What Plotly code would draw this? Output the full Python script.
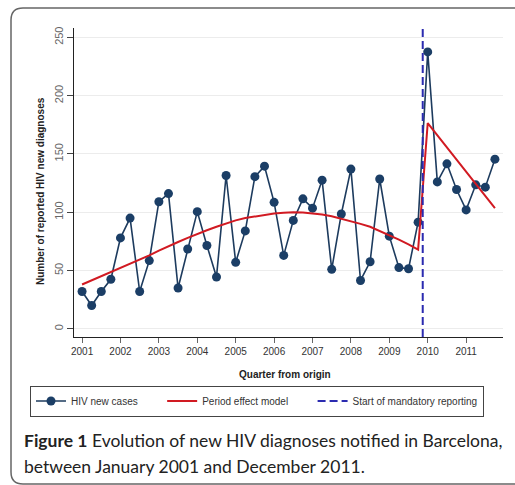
import plotly.graph_objects as go

# ---------------- data ----------------
years = list(range(2001, 2012))
year_labels = [str(y) for y in years]
quarters = [y + q / 4 for y in years for q in range(4)]

hiv_cases = [32, 20, 32, 42.5, 78, 95, 32, 58.5,
             109, 116, 35, 68.5, 100.5, 71.5, 44.5, 131.5,
             57, 84, 130.5, 139.5, 108.5, 63, 93, 111.5,
             103.5, 127.5, 51, 98.5, 137, 41.5, 57.5, 128.5,
             79.5, 52.5, 51.5, 91.5, 237.5, 126, 141.5, 119.5,
             102, 123.5, 121.5, 145.5]

period_model = [38, 41.5, 45, 48.5, 52, 56, 59.5, 63,
                67, 71, 74.5, 78, 81.5, 84.5, 87.5, 90.5,
                93, 95, 96.5, 98, 99, 99.5, 100, 99.8,
                99.2, 98, 96.5, 94.5, 92.5, 90, 87.5, 84,
                80.5, 76.5, 72.5, 68, 176.5, 166, 156, 145.5,
                135, 124.5, 114, 103.5]

mandatory_start = 2009.87
y_ticks = [0, 50, 100, 150, 200, 250]
y_range = [-7, 258]
x_range = [2000.79, 2011.96]

# ---------------- figure ----------------
W, H = 515, 485
ML, MR, MT, MB = 74, 12, 28, 148
PW, PH = W - ML - MR, H - MT - MB


def px(x):
    return (x - ML) / PW


def py(y):
    return (H - MB - y) / PH


NB = "\u00a0"

fig = go.Figure()

fig.add_trace(go.Scatter(
    x=quarters, y=hiv_cases, mode="lines+markers", name="HIV new cases" + NB * 7,
    line=dict(color="#1d3b5e", width=1.6),
    marker=dict(color="#1b3e66", size=9),
))
fig.add_trace(go.Scatter(
    x=quarters, y=period_model, mode="lines", name="Period effect model" + NB * 7,
    line=dict(color="#d11a22", width=2),
))
fig.add_trace(go.Scatter(
    x=[mandatory_start, mandatory_start], y=y_range, mode="lines",
    name="Start of mandatory reporting",
    line=dict(color="#2b2bb0", width=2, dash="8px,4px"),
))

fig.update_layout(
    width=W, height=H,
    margin=dict(l=ML, r=MR, t=MT, b=MB),
    paper_bgcolor="white", plot_bgcolor="white",
    font=dict(family="Liberation Sans, Arial", size=10, color="#333"),
    showlegend=True,
    legend=dict(
        orientation="h", x=px(30), xanchor="left", y=py(401), yanchor="middle",
        bordercolor="#444", borderwidth=1, bgcolor="white",
        font=dict(family="Liberation Sans, Arial", size=10, color="#333"),
        itemwidth=30, tracegroupgap=0,
    ),
    xaxis=dict(
        range=x_range, tickvals=years, ticktext=year_labels,
        showgrid=False, zeroline=False, showline=True, linecolor="#222", linewidth=1,
        ticks="outside", ticklen=5, tickcolor="#666",
        tickfont=dict(size=10, color="#333"),
    ),
    yaxis=dict(
        range=y_range, tickvals=y_ticks, tickangle=-90,
        showgrid=True, gridcolor="#ececec", gridwidth=1,
        zeroline=False, showline=True, linecolor="#222", linewidth=1,
        ticks="outside", ticklen=6, tickcolor="#444",
        tickfont=dict(size=11, color="#666"),
    ),
)

fig.add_annotation(
    xref="paper", yref="paper", x=px(40), y=py(191), textangle=-90,
    text="<b>Number of reported HIV new diagnoses</b>", showarrow=False,
    font=dict(size=10, color="#222"), xanchor="center", yanchor="middle",
)
fig.add_annotation(
    xref="paper", yref="paper", x=px(285), y=py(374),
    text="<b>Quarter from origin</b>", showarrow=False,
    font=dict(size=10, color="#222"), xanchor="center", yanchor="middle",
)

cap_font = dict(family="Lato, Open Sans", size=17.5, color="#222")
fig.add_annotation(
    xref="paper", yref="paper", x=px(22), y=py(440), xanchor="left", yanchor="middle",
    text="<b>Figure 1</b> Evolution of new HIV diagnoses notified in Barcelona,",
    showarrow=False, font=cap_font,
)
fig.add_annotation(
    xref="paper", yref="paper", x=px(22), y=py(466), xanchor="left", yanchor="middle",
    text="between January 2001 and December 2011.",
    showarrow=False, font=cap_font,
)

# rounded frame around the figure
L, T, B, R = px(11), py(8), py(484), px(530)
rx, ry = 12 / PW, 12 / PH
frame = (f"M {R},{T} L {L + rx},{T} Q {L},{T} {L},{T - ry} "
         f"L {L},{B + ry} Q {L},{B} {L + rx},{B} L {R},{B}")
fig.add_shape(type="path", xref="paper", yref="paper", path=frame,
              line=dict(color="#666", width=1.5), layer="below")

fig.write_html("out.html")
